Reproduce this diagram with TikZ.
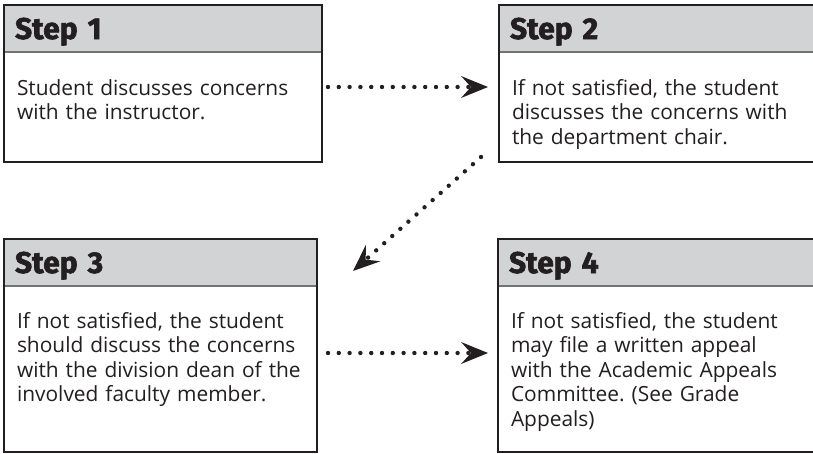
\documentclass[tikz,border=0pt]{standalone}
\usepackage{fontspec}
\setmainfont{Open Sans}
\newfontfamily\headfont{Fira Sans}[BoldFeatures={FakeBold=2}]
\usepackage{xcolor}
\usepackage{tikz}
\usetikzlibrary{arrows.meta, positioning}
\frenchspacing
\definecolor{headgray}{HTML}{D1D3D4}
\definecolor{inkblack}{HTML}{231F20}
\tikzstyle{stephead} = [inner xsep=11pt, inner ysep=0pt, outer sep=0pt, text height=34pt, text depth=13pt, align=left, text=inkblack, fill=headgray, font=\headfont\bfseries\fontsize{30}{30}\selectfont]
\tikzstyle{stepbody} = [inner xsep=13pt, inner ysep=0pt, outer sep=0pt, align=left, text=inkblack, font=\fontsize{20.9}{24.6}\selectfont]
\tikzstyle{stepframe} = [draw=inkblack, line width=2.5pt]
\tikzstyle{stepsep} = [draw=black!55, line width=1.3pt]
\tikzstyle{dotarrow} = [draw=inkblack, line width=4.4pt, line cap=round, dash pattern=on 0pt off 10.8pt, -{Stealth[length=27pt, width=22pt, inset=10pt, line width=0pt]}]

\begin{document}
\begin{tikzpicture}[x=1pt,y=-1pt]
	% Canvas:
	\path[use as bounding box, fill=white] (0,0) rectangle (813,453);

	% Step boxes, header on top and body below:
	\node[stephead, anchor=north west, text width=296pt] (h1) at (4,5) {Step 1};
	\node[stepbody, below=0pt of h1, text width=292pt, text height=43pt, text depth=67pt] (b1)
		{Student discusses concerns\\with the instructor.};

	\node[stephead, anchor=north west, text width=310pt] (h2) at (499,5) {Step 2};
	\node[stepbody, below=0pt of h2, text width=306pt, text height=43pt, text depth=67pt] (b2)
		{If not satisfied, the student\\discusses the concerns with\\the department chair.};

	\node[stephead, anchor=north west, text width=291pt] (h3) at (4,239) {Step 3};
	\node[stepbody, below=0pt of h3, text width=287pt, text height=42pt, text depth=124pt] (b3)
		{If not satisfied, the student\\should discuss the concerns\\with the division dean of the\\involved faculty member.};

	\node[stephead, anchor=north west, text width=310pt] (h4) at (498,239) {Step 4};
	\node[stepbody, below=0pt of h4, text width=306pt, text height=42pt, text depth=124pt] (b4)
		{If not satisfied, the student\\may file a written appeal\\with the Academic Appeals\\Committee. (See Grade\\Appeals)};

	% Frames and header rules:
	\foreach \n in {1,2,3,4}{%
		\draw[stepsep] (h\n.south west) -- (h\n.south east);
		\draw[stepframe] (h\n.north west) rectangle (b\n.south east);
	}

	% Dotted connectors:
	\draw[dotarrow, shorten <=6pt, shorten >=11pt] ([yshift=20pt]b1.east) -- ([yshift=20pt]b2.west);
	\draw[dotarrow] ([xshift=-18pt,yshift=5pt]b2.south west) -- ([xshift=36pt,yshift=-32pt]h3.north east);
	\draw[dotarrow, shorten <=11pt, shorten >=10pt] ([yshift=16pt]b3.east) -- ([yshift=16pt]b4.west);
\end{tikzpicture}
\end{document}
